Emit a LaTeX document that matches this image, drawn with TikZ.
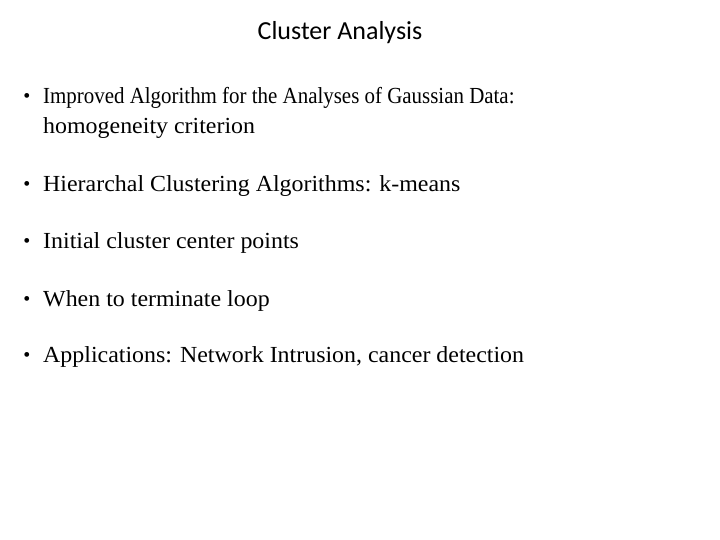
\documentclass[tikz,border=0pt]{standalone}
\usepackage{fontspec}
\setmainfont{Liberation Serif}
\newfontfamily\titlefont{Carlito}
\begin{document}
\begin{tikzpicture}[x=1pt,y=-1pt,
  txt/.style={anchor=west,inner sep=0pt,font=\fontsize{23}{27}\selectfont,xscale=1.04},
  bul/.style={anchor=center,inner sep=0pt,font=\fontsize{20}{24}\selectfont}]
\useasboundingbox[fill=white] (0,0) rectangle (720,540);
\node[inner sep=0pt,font=\titlefont\fontsize{26}{30}\selectfont] (title) at (340,33) {Cluster Analysis};
\node[bul] (b1) at (27,98) {•};
\node[txt,xscale=0.875] (t1) at (43,98) {Improved Algorithm for the Analyses of Gaussian Data:};
\node[txt] (t1b) at (43,128) {homogeneity criterion};
\node[bul] (b2) at (27,186) {•};
\node[txt] (t2) at (43,186) {Hierarchal Clustering Algorithms: k-means};
\node[bul] (b3) at (27,243) {•};
\node[txt] (t3) at (43,243) {Initial cluster center points};
\node[bul] (b4) at (27,301) {•};
\node[txt] (t4) at (43,301) {When to terminate loop};
\node[bul] (b5) at (27,357) {•};
\node[txt] (t5) at (43,357) {Applications: Network Intrusion, cancer detection};
\end{tikzpicture}
\end{document}
